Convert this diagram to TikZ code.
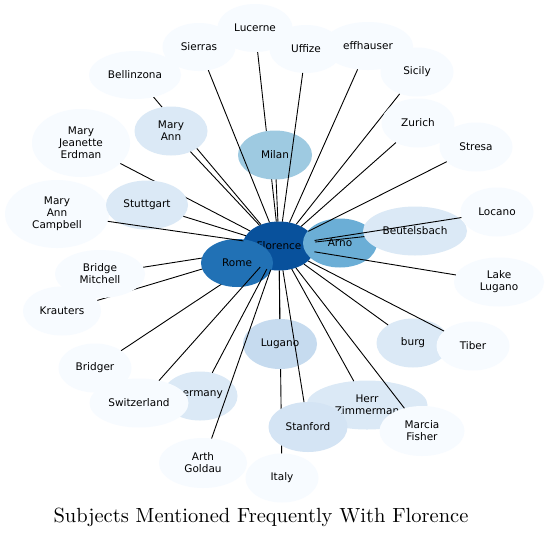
\documentclass[tikz,border=0pt]{standalone}
\usepackage{fontspec}
\usetikzlibrary{shapes.geometric}
\newfontfamily\labfont{DejaVu Sans}
\definecolor{cA}{HTML}{08519C}
\definecolor{cB}{HTML}{2171B5}
\definecolor{cC}{HTML}{6BAED6}
\definecolor{cD}{HTML}{9ECAE1}
\definecolor{cE}{HTML}{C6DBEF}
\definecolor{cF}{HTML}{D4E4F4}
\definecolor{cG}{HTML}{DBE9F6}
\definecolor{cH}{HTML}{F7FBFF}
\pgfdeclarelayer{bottom}
\pgfdeclarelayer{background}
\pgfsetlayers{bottom,background,main}
\begin{document}
\begin{tikzpicture}[x=1pt,y=-1pt,
  nd/.style={ellipse,inner sep=0pt,outer sep=0pt,draw=none,align=center,
    font={\labfont\fontsize{10.5}{11.9}\selectfont},text=black,fill=cH,
    minimum width=73pt,minimum height=49pt},
  lbl/.style={inner sep=0pt,font={\labfont\fontsize{10.5}{11.9}\selectfont},text=black},
  edge/.style={draw=black,line width=0.9pt}]
\begin{pgfonlayer}{bottom}
\fill[white] (0,0) rectangle (549,539);
\end{pgfonlayer}
\useasboundingbox (0,0) rectangle (549,539);
% nodes
\node[nd,fill=cA] (flo) at (279,246) {Florence};
\node[nd,fill=cB,minimum width=72pt,minimum height=48pt] (rome) at (237,263) {Rome};
\node[nd,fill=cC,minimum width=74pt] (arno) at (340,243) {Arno};
\node[nd,fill=cG,minimum width=104pt] (beut) at (415,231) {Beutelsbach};
\node[nd] (loca) at (497,212) {Locano};
\node[nd,minimum width=90pt] (lakel) at (499,282) {Lake\\Lugano};
\node[nd,minimum width=75pt,minimum height=48pt] (luc) at (255,28) {Lucerne};
\node[nd,minimum height=48pt] (sier) at (199,47) {Sierras};
\node[nd,minimum height=48pt] (uff) at (306,49) {Uffize};
\node[nd,minimum width=90pt,minimum height=48pt] (eff) at (368,46) {effhauser};
\node[nd] (sic) at (417,72) {Sicily};
\node[nd] (zur) at (418,123) {Zurich};
\node[nd] (stre) at (476,147) {Stresa};
\node[nd,minimum width=92pt,minimum height=48pt] (bell) at (135,75) {Bellinzona};
\node[nd,fill=cG] (mann) at (171,131) {Mary\\Ann};
\node[nd,minimum width=98pt,minimum height=68pt] (mje) at (81,143) {Mary\\Jeanette\\Erdman};
\node[nd,minimum width=104pt,minimum height=68pt] (mac) at (57,214) {Mary\\Ann\\Campbell};
\node[nd,fill=cG,minimum width=82pt] (stut) at (147,205) {Stuttgart};
\node[nd,fill=cD,minimum width=74pt] (mil) at (275,155) {Milan};
\node[nd,minimum width=90pt,minimum height=48pt] (bmit) at (100,274) {Bridge\\Mitchell};
\node[nd,minimum width=78pt] (krau) at (62,311) {Krauters};
\node[nd] (brid) at (95,368) {Bridger};
\node[nd,fill=cG,minimum width=75pt] (germ) at (200,396) {};
\node[lbl,anchor=east] (germl) at (223,395) {ermany};
\node[nd,minimum width=99pt] (swi) at (139,403) {Switzerland};
\node[nd,minimum width=88pt,minimum height=50pt] (arth) at (203,463) {Arth\\Goldau};
\node[nd,fill=cE,minimum width=74pt,minimum height=50pt] (lug) at (280,344) {Lugano};
\node[nd] (ital) at (282,478) {Italy};
\node[nd,fill=cG,minimum width=121pt] (herr) at (367,405) {Herr\\Zimmerman};
\node[nd,fill=cF,minimum width=79pt,minimum height=50pt] (stan) at (308,427) {Stanford};
\node[nd,minimum width=85pt,minimum height=50pt] (marc) at (422,431) {Marcia\\Fisher};
\node[nd,fill=cG] (burg) at (413,343) {burg};
\node[nd] (tib) at (473,346) {Tiber};
% edges hidden behind nodes
\begin{pgfonlayer}{background}
\foreach \t in {luc,bell,mje,bmit,krau,brid,ital,sic,rome,arno}
  \draw[edge] (flo) -- (\t);
\end{pgfonlayer}
% edges on top
\foreach \t in {sier,uff,eff,zur,stre,loca,beut,lakel,mil,mann,stut,mac,swi,germ,arth,lug,stan,herr,marc,burg,tib}
  \draw[edge] (flo) -- (\t);
% title
\node[inner sep=0pt] (title) at (261,517) {\scalebox{2.05}{\fontsize{10}{12}\selectfont Subjects Mentioned Frequently With Florence}};
\end{tikzpicture}
\end{document}
